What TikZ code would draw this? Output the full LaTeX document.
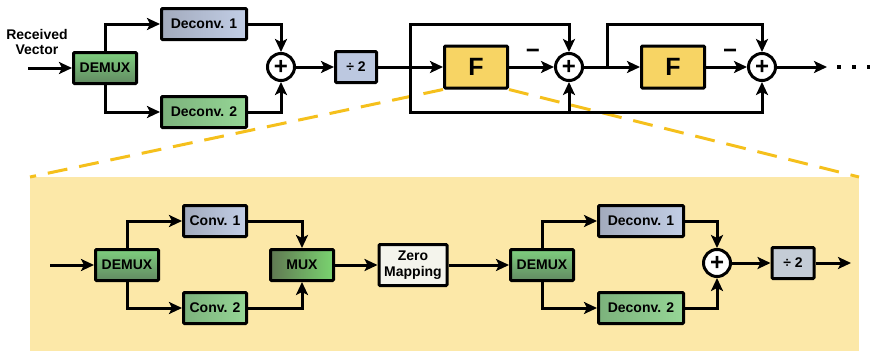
\documentclass[tikz,border=0pt]{standalone}
\usepackage{fontspec}
\setmainfont{Liberation Sans}
\usetikzlibrary{calc}
\usetikzlibrary{arrows.meta}

\definecolor{panelyel}{RGB}{252,232,168}
\definecolor{dashyel}{RGB}{245,192,28}
\definecolor{fyel}{RGB}{247,212,100}
\definecolor{zerowht}{RGB}{244,244,236}

\begin{document}
\begin{tikzpicture}[x=1pt, y=-1pt,
		blk/.style={draw, line width=3pt, rounded corners=1pt, minimum height=31pt, inner sep=0pt, font=\fontsize{14}{15.5}\selectfont\bfseries},
		dmx/.style={blk, minimum width=63pt, top color={rgb,255:red,126;green,206;blue,126}, bottom color={rgb,255:red,98;green,138;blue,98}},
		mx/.style={blk, minimum width=63pt, left color={rgb,255:red,96;green,120;blue,82}, right color={rgb,255:red,122;green,212;blue,112}},
		bluebox/.style={blk, left color={rgb,255:red,162;green,170;blue,188}, right color={rgb,255:red,194;green,206;blue,230}},
		greenbox/.style={blk, left color={rgb,255:red,124;green,178;blue,124}, right color={rgb,255:red,150;green,214;blue,150}},
		fbox/.style={blk, fill=fyel, minimum width=63pt, minimum height=42pt, font=\fontsize{25}{25}\selectfont\bfseries},
		sum/.style={draw, circle, line width=3pt, fill=white, minimum size=27pt, inner sep=0pt, font=\fontsize{24}{24}\selectfont\bfseries},
		conn/.style={line width=3pt, -{Stealth[length=13pt, width=12pt, inset=3pt]}},
		lbl/.style={font=\fontsize{14}{15.5}\selectfont\bfseries, align=center, inner sep=0pt},
		minus/.style={font=\fontsize{24}{24}\selectfont\bfseries, inner sep=0pt}]

	\useasboundingbox (0, 0) rectangle (870, 351);

	% zoomed panel
	\coordinate (pnlNW) at (30, 177);
	\coordinate (pnlNE) at (859, 177);
	\coordinate (pnlSE) at (859, 351);
	\fill[panelyel] (pnlNW) rectangle (pnlSE);

	% upper chain
	\node[lbl] (recv) at (37, 42) {Received\\Vector};
	\coordinate (inA) at (28, 68);
	\node[dmx] (dmxA) at (105, 68) {DEMUX};
	\node[bluebox, minimum width=85pt] (dcA1) at (204, 24) {Deconv. 1};
	\node[greenbox, minimum width=85pt] (dcA2) at (204, 112) {Deconv. 2};
	\node[sum] (sumA) at (281, 67) {+};
	\node[blk, minimum width=41pt, fill={rgb,255:red,188;green,200;blue,224}] (divA) at (356, 67) {÷ 2};
	\coordinate (jA) at (410, 67);
	\node[fbox] (fA) at (476, 67) {F};
	\node[sum] (sumB) at (569, 67) {+};
	\coordinate (jB) at (607, 67);
	\node[fbox] (fB) at (673, 67) {F};
	\node[sum] (sumC) at (762, 67) {+};
	\coordinate (outA) at (827, 67);

	\node[minus] (mnB) at (533, 54) {−};
	\node[minus] (mnC) at (730, 54) {−};

	\draw[dashyel, line width=3pt, dash pattern=on 20pt off 12pt] (fA.south west) -- (pnlNW);
	\draw[dashyel, line width=3pt, dash pattern=on 20pt off 12pt] (fA.south east) -- (pnlNE);

	\draw[conn] (inA) -- (dmxA.west);
	\draw[conn] (dmxA.north) |- (dcA1.west);
	\draw[conn] (dmxA.south) |- (dcA2.west);
	\draw[conn] (dcA1.east) -| (sumA.north);
	\draw[conn] (dcA2.east) -| (sumA.south);
	\draw[conn] (sumA.east) -- (divA.west);
	\draw[conn] (divA.east) -- (fA.west);
	\draw[conn] (jA) -- (jA |- dcA1) -| (sumB.north);
	\draw[conn] (jA) -- (jA |- dcA2) -| (sumB.south);
	\draw[conn] (jA |- dcA2) -| (sumC.south);
	\draw[conn] (fA.east) -- (sumB.west);
	\draw[conn] (sumB.east) -- (fB.west);
	\draw[conn] (jB) -- (jB |- dcA1) -| (sumC.north);
	\draw[conn] (fB.east) -- (sumC.west);
	\draw[conn] (sumC.east) -- (outA);

	\foreach \i/\x in {1/839, 2/854, 3/869}
		\node[fill, minimum size=4pt, inner sep=0pt] (dot\i) at (\x, 67) {};

	% lower chain
	\coordinate (inB) at (50, 265);
	\node[dmx] (dmxB) at (127, 265) {DEMUX};
	\node[bluebox, minimum width=63pt] (cvB1) at (215, 221) {Conv. 1};
	\node[greenbox, minimum width=63pt] (cvB2) at (215, 308) {Conv. 2};
	\node[mx] (mux) at (302, 265) {MUX};
	\node[blk, fill=zerowht, minimum width=68pt, minimum height=41pt, align=center] (zmap) at (413, 265) {Zero\\Mapping};
	\node[dmx] (dmxC) at (542, 265) {DEMUX};
	\node[bluebox, minimum width=85pt] (dcC1) at (641, 221) {Deconv. 1};
	\node[greenbox, minimum width=85pt] (dcC2) at (641, 308) {Deconv. 2};
	\node[sum] (sumD) at (717, 263) {+};
	\node[blk, minimum width=42pt, fill={rgb,255:red,196;green,204;blue,214}] (divB) at (793, 263) {÷ 2};
	\coordinate (outB) at (851, 263);

	\draw[conn] (inB) -- (dmxB.west);
	\draw[conn] (dmxB.north) |- (cvB1.west);
	\draw[conn] (dmxB.south) |- (cvB2.west);
	\draw[conn] (cvB1.east) -| (mux.north);
	\draw[conn] (cvB2.east) -| (mux.south);
	\draw[conn] (mux.east) -- (zmap.west);
	\draw[conn] (zmap.east) -- (dmxC.west);
	\draw[conn] (dmxC.north) |- (dcC1.west);
	\draw[conn] (dmxC.south) |- (dcC2.west);
	\draw[conn] (dcC1.east) -| (sumD.north);
	\draw[conn] (dcC2.east) -| (sumD.south);
	\draw[conn] (sumD.east) -- (divB.west);
	\draw[conn] (divB.east) -- (outB);
\end{tikzpicture}
\end{document}
